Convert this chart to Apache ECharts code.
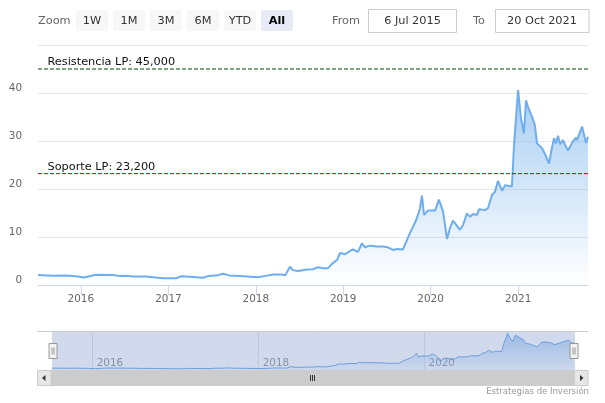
<!DOCTYPE html>
<html><head><meta charset="utf-8">
<script src="https://cdn.jsdelivr.net/npm/echarts@6/dist/echarts.min.js"></script>
<style>html,body{margin:0;padding:0;background:#fff}#chart{width:605px;height:403px}</style>
</head><body><div id="chart"></div>
<script>
const dates = ['2015-07-06','2015-09-05','2015-10-31','2015-12-12','2016-01-14','2016-03-04','2016-05-14','2016-06-08','2016-07-08','2016-08-06','2016-09-29','2016-12-09','2017-02-02','2017-02-22','2017-04-14','2017-05-25','2017-06-19','2017-07-27','2017-08-17','2017-09-11','2017-10-27','2018-01-10','2018-02-17','2018-03-14','2018-04-20','2018-05-03','2018-05-24','2018-06-05','2018-06-26','2018-08-03','2018-08-28','2018-09-18','2018-10-09','2018-10-30','2018-11-15','2018-12-06','2018-12-19','2019-01-09','2019-01-30','2019-02-11','2019-03-04','2019-03-21','2019-04-02','2019-04-23','2019-05-22','2019-06-16','2019-07-07','2019-07-28','2019-08-14','2019-09-08','2019-09-25','2019-10-07','2019-10-20','2019-10-28','2019-11-05','2019-11-18','2019-11-26','2019-12-05','2019-12-21','2020-01-20','2020-01-28','2020-02-05','2020-02-22','2020-03-10','2020-03-22','2020-04-04','2020-05-03','2020-05-16','2020-06-01','2020-06-14','2020-06-26','2020-07-13','2020-07-22','2020-08-16','2020-08-28','2020-09-14','2020-09-26','2020-10-09','2020-10-26','2020-11-07','2020-12-06','2020-12-15','2021-01-01','2021-01-13','2021-01-25','2021-02-03','2021-02-11','2021-02-28','2021-03-12','2021-03-21','2021-04-11','2021-04-27','2021-05-10','2021-05-22','2021-05-31','2021-06-08','2021-06-17','2021-06-25','2021-07-07','2021-07-28','2021-08-18','2021-08-31','2021-09-04','2021-09-25','2021-10-12','2021-10-20'];
const values = [2.1,1.95,2.0,1.8,1.55,2.15,2.1,1.9,1.95,1.75,1.75,1.4,1.4,1.8,1.65,1.5,1.9,2.05,2.35,2.0,1.85,1.6,1.95,2.2,2.2,2.0,3.8,3.1,2.9,3.25,3.3,3.7,3.5,3.5,4.4,5.2,6.7,6.4,7.1,7.4,6.9,8.7,7.85,8.2,8.0,8.0,7.85,7.3,7.5,7.4,9.4,10.8,12.1,11.7,13.9,16.0,18.6,14.6,15.5,15.5,15.8,17.8,15.4,9.6,11.8,13.4,11.5,12.5,14.9,14.2,14.8,14.6,15.8,15.6,16.0,18.75,19.4,21.7,19.6,20.8,20.5,29.2,40.6,34.7,31.6,38.5,37.1,35.1,33.3,29.5,28.5,26.9,25.3,28.5,30.6,29.5,31.1,29.3,30.2,28.0,29.9,30.7,30.2,33.0,29.6,30.9];
const yearTicks = ['2016','2017','2018','2019','2020','2021'];
const navYearTicks = ['2016','2018','2020'];
const planValues = [45, 23.2];
const planLabels = ['Resistencia LP: 45,000', 'Soporte LP: 23,200'];
const rangeButtons = ['1W','1M','3M','6M','YTD','All'];
const fromLabel = 'From', toLabel = 'To', zoomLabel = 'Zoom';
const fromDate = '6 Jul 2015', toDate = '20 Oct 2021';
const creditText = 'Estrategias de Inversión';

const FONT = '"DejaVu Sans", Verdana, sans-serif';
const planColors = ['#004a00', '#c80000'];
const ts = d => new Date(d + 'T00:00:00').getTime();
const yearTs = y => new Date(+y, 0, 1).getTime();
const yearFmt = v => String(new Date(v).getFullYear());
const seriesData = dates.map((d, i) => [ts(d), values[i]]);
const xMin = ts(dates[0]), xMax = ts(dates[dates.length - 1]);

const graphics = [];
graphics.push({type:'text', x:38, y:21, style:{text:zoomLabel, fill:'#666', fontSize:11.3, fontFamily:FONT, align:'left', verticalAlign:'middle'}});
rangeButtons.forEach((b, i) => {
  const x0 = 76 + i * 37;
  const sel = b === 'All';
  graphics.push({type:'rect', shape:{x:x0, y:10, width:32, height:21, r:2}, style:{fill: sel ? '#e6ebf5' : '#f7f7f7'}});
  graphics.push({type:'text', x:x0 + 16, y:21, style:{text:b, fill: sel ? '#000' : '#333', fontSize:11.3, fontWeight: sel ? 'bold' : 'normal', fontFamily:FONT, align:'center', verticalAlign:'middle'}});
});
graphics.push({type:'text', x:332, y:21, style:{text:fromLabel, fill:'#666', fontSize:11.3, fontFamily:FONT, align:'left', verticalAlign:'middle'}});
graphics.push({type:'rect', shape:{x:368.5, y:9.5, width:88, height:23}, style:{fill:'#fff', stroke:'#ccc', lineWidth:1}});
graphics.push({type:'text', x:412.5, y:21, style:{text:fromDate, fill:'#333', fontSize:11.3, fontFamily:FONT, align:'center', verticalAlign:'middle'}});
graphics.push({type:'text', x:473, y:21, style:{text:toLabel, fill:'#666', fontSize:11.3, fontFamily:FONT, align:'left', verticalAlign:'middle'}});
graphics.push({type:'rect', shape:{x:495.5, y:9.5, width:93.5, height:23}, style:{fill:'#fff', stroke:'#ccc', lineWidth:1}});
graphics.push({type:'text', x:542, y:21, style:{text:toDate, fill:'#333', fontSize:11.3, fontFamily:FONT, align:'center', verticalAlign:'middle'}});
graphics.push({type:'line', shape:{x1:37, y1:331.5, x2:588, y2:331.5}, style:{stroke:'#ccc', lineWidth:1}});
graphics.push({type:'rect', shape:{x:51, y:370.5, width:523, height:15}, style:{fill:'#ccc', stroke:'#ccc', lineWidth:1}});
graphics.push({type:'rect', shape:{x:37.5, y:370.5, width:13.5, height:15}, style:{fill:'#e6e6e6', stroke:'#ccc', lineWidth:1}});
graphics.push({type:'rect', shape:{x:574.5, y:370.5, width:13.5, height:15}, style:{fill:'#e6e6e6', stroke:'#ccc', lineWidth:1}});
graphics.push({type:'polygon', shape:{points:[[45.5,375],[45.5,381],[42,378]]}, style:{fill:'#333'}});
graphics.push({type:'polygon', shape:{points:[[580,375],[580,381],[583.5,378]]}, style:{fill:'#333'}});
[310.5, 312.5, 314.5].forEach(x => graphics.push({type:'line', shape:{x1:x, y1:375, x2:x, y2:381}, style:{stroke:'#333', lineWidth:1}}));
graphics.push({type:'text', x:589, y:392, style:{text:creditText, fill:'#999', fontSize:8.5, fontFamily:FONT, align:'right', verticalAlign:'middle'}});

const planSeries = planValues.map((v, i) => ({
  type:'line', name:'plan' + i, xAxisIndex:0, yAxisIndex:0, silent:true, z:3,
  symbol:'circle', symbolSize:1, showSymbol:true,
  itemStyle:{color:'rgba(0,0,0,0)', borderWidth:0},
  lineStyle:{color:planColors[i], type:[4,2], width:1},
  emphasis:{disabled:true},
  data:[
    {value:[xMin, v], label:{show:true, formatter:planLabels[i], position:[10,-1], align:'left', verticalAlign:'bottom', color:'#111', fontSize:11.3, fontFamily:FONT}},
    {value:[xMax, v], label:{show:false}}
  ]
}));

const chart = echarts.init(document.getElementById('chart'), null, {renderer:'canvas'});
chart.setOption({
  animation: false,
  backgroundColor: '#fff',
  textStyle: {fontFamily: FONT},
  grid: [
    {left:38, top:45, width:550, height:240},
    {left:52, top:332, width:522, height:38}
  ],
  xAxis: [
    {type:'value', gridIndex:0, min:xMin, max:xMax, scale:true,
     axisLine:{lineStyle:{color:'#ccd6eb'}},
     axisTick:{show:true, length:10, customValues: yearTicks.map(yearTs), lineStyle:{color:'#ccd6eb'}},
     axisLabel:{customValues: yearTicks.map(yearTs), formatter: yearFmt, color:'#666', fontSize:10.4, margin:9, fontFamily:FONT},
     splitLine:{show:false}},
    {type:'value', gridIndex:1, min:xMin, max:xMax, scale:true,
     axisLine:{show:false},
     axisTick:{show:true, inside:true, length:38, customValues: navYearTicks.map(yearTs), lineStyle:{color:'#e6e6e6'}},
     axisLabel:{inside:true, customValues: navYearTicks.map(yearTs), formatter: yearFmt, color:'#999', fontSize:10.4, align:'left', verticalAlign:'bottom', padding:[0,0,0,4], margin:2, fontFamily:FONT},
     splitLine:{show:false}}
  ],
  yAxis: [
    {type:'value', gridIndex:0, min:0, max:50, interval:10,
     axisLine:{show:false}, axisTick:{show:false},
     splitLine:{lineStyle:{color:'#e6e6e6'}},
     axisLabel:{color:'#666', fontSize:10.4, margin:16, verticalAlign:'bottom', showMaxLabel:false, fontFamily:FONT}},
    {type:'value', gridIndex:1, min:0, max:42, show:false, splitLine:{show:false}}
  ],
  dataZoom: [{
    type:'slider', xAxisIndex:0, filterMode:'none', start:0, end:100,
    left:51, width:523, top:332, height:38,
    showDataShadow:false, showDetail:false, brushSelect:false,
    backgroundColor:'rgba(0,0,0,0)', borderColor:'rgba(0,0,0,0)', borderRadius:0,
    fillerColor:'rgba(102,133,194,0.3)',
    handleIcon:'path://M0,0L8,0L8,15L0,15Z M3,4L3,11 M5,4L5,11',
    handleSize:15,
    handleStyle:{color:'#f2f2f2', borderColor:'#999', borderWidth:1},
    moveHandleSize:0, moveHandleStyle:{opacity:0},
    emphasis:{handleStyle:{color:'#f2f2f2', borderColor:'#999'}, moveHandleStyle:{opacity:0}},
    textStyle:{color:'rgba(0,0,0,0)'}
  }],
  series: [
    {type:'line', xAxisIndex:0, yAxisIndex:0, data: seriesData, showSymbol:false, z:2,
     lineStyle:{color:'#6eaeee', width:2},
     itemStyle:{color:'#6eaeee'},
     areaStyle:{color: new echarts.graphic.LinearGradient(0,0,0,1,[{offset:0,color:'rgba(124,181,236,0.95)'},{offset:1,color:'rgba(124,181,236,0)'}])}
    },
    {type:'line', xAxisIndex:1, yAxisIndex:1, data: seriesData, showSymbol:false, z:1,
     lineStyle:{color:'#6fa8e8', width:1},
     itemStyle:{color:'#6fa8e8'},
     areaStyle:{color: new echarts.graphic.LinearGradient(0,0,0,1,[{offset:0,color:'rgba(124,181,236,0.85)'},{offset:1,color:'rgba(124,181,236,0.05)'}])}
    }
  ].concat(planSeries),
  graphic: graphics
});
</script></body></html>
